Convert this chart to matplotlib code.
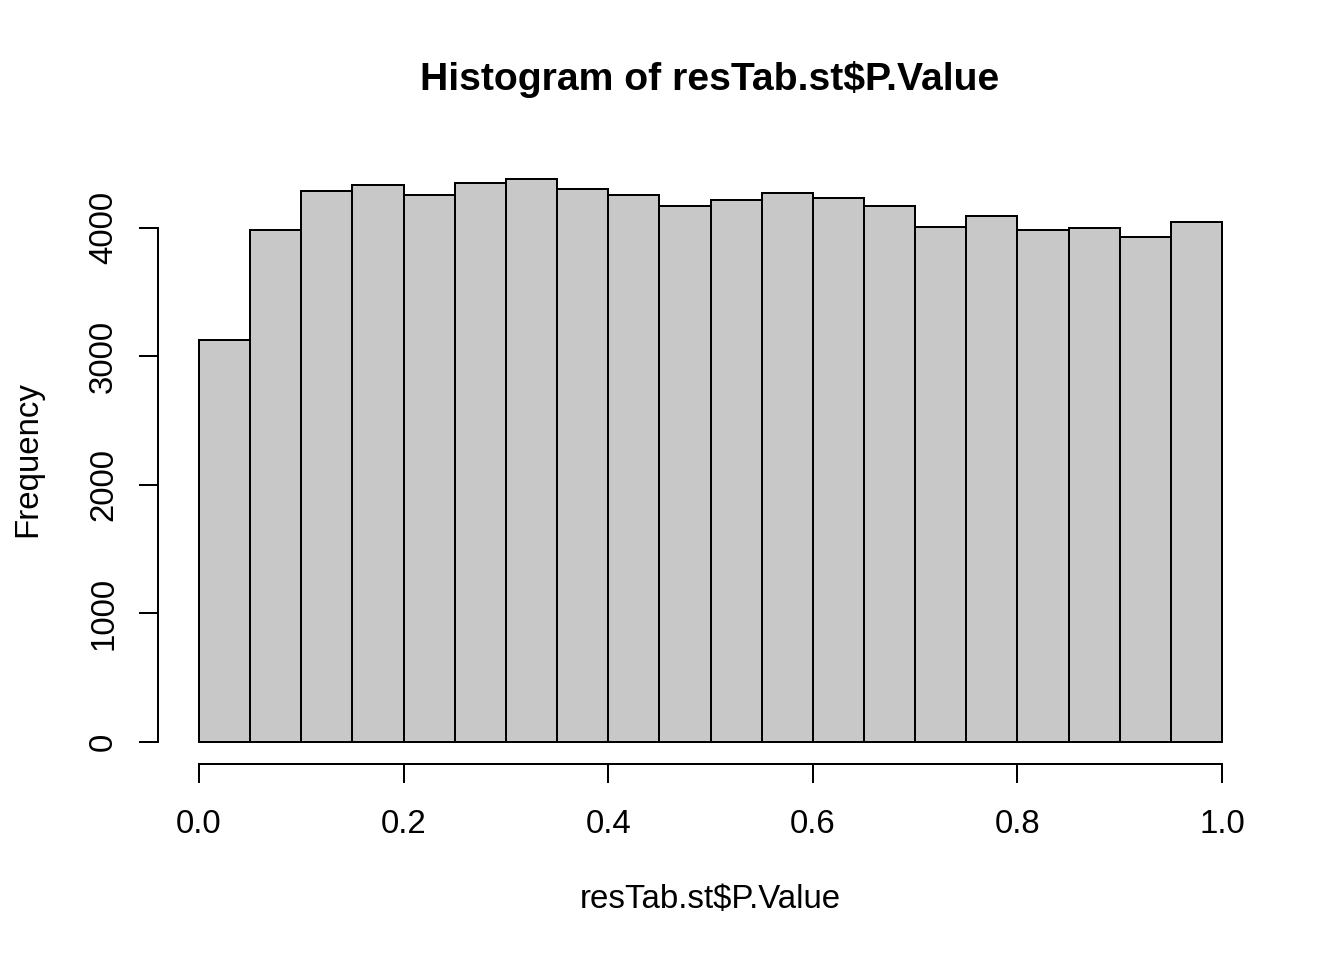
import matplotlib
matplotlib.use("Agg")
import matplotlib.pyplot as plt
import numpy as np

plt.rcParams['font.family'] = ['Liberation Sans', 'DejaVu Sans']

bin_edges = [0.00, 0.05, 0.10, 0.15, 0.20, 0.25, 0.30, 0.35, 0.40, 0.45, 0.50,
             0.55, 0.60, 0.65, 0.70, 0.75, 0.80, 0.85, 0.90, 0.95, 1.00]
counts = [3124, 3982, 4281, 4330, 4252, 4348, 4374, 4302, 4255, 4166,
          4211, 4268, 4226, 4164, 4002, 4091, 3984, 4000, 3930, 4041]
x_ticks = [0.0, 0.2, 0.4, 0.6, 0.8, 1.0]
x_tick_labels = ["0.0", "0.2", "0.4", "0.6", "0.8", "1.0"]
y_ticks = [0, 1000, 2000, 3000, 4000]
y_tick_labels = ["0", "1000", "2000", "3000", "4000"]
title = "Histogram of resTab.st$P.Value"
xlabel = "resTab.st$P.Value"
ylabel = "Frequency"

W, H = 1344, 960
fig = plt.figure(figsize=(7, 5), dpi=192)
ax = fig.add_axes([158 / W, 1 - 764 / H, (1263 - 158) / W, (764 - 157) / H])

edges = np.array(bin_edges)
ax.bar(edges[:-1], counts, width=np.diff(edges), align='edge',
       color='#C8C8C8', edgecolor='black', linewidth=0.75)

ymax = max(counts)
ax.set_xlim(-0.04, 1.04)
ax.set_ylim(-0.04 * ymax, 1.04 * ymax)

for s in ['top', 'right']:
    ax.spines[s].set_visible(False)
ax.spines['left'].set_bounds(0, 4000)
ax.spines['bottom'].set_bounds(0, 1)
for s in ['left', 'bottom']:
    ax.spines[s].set_linewidth(0.75)

ax.set_xticks(x_ticks)
ax.set_xticklabels(x_tick_labels)
ax.set_yticks(y_ticks)
ax.set_yticklabels(y_tick_labels, rotation=90, va='center')
ax.tick_params(direction='out', length=7.2, width=0.75, labelsize=12.4)
ax.tick_params(axis='x', pad=9.6)
ax.tick_params(axis='y', pad=7.4)

fig.text(710 / W, 1 - 90 / H, title, ha='center', va='baseline',
         fontsize=14.7, fontweight='bold')
fig.text(710 / W, 1 - 908 / H, xlabel, ha='center', va='baseline', fontsize=12.4)
fig.text(27.5 / W, 1 - 459 / H, ylabel, ha='center', va='center',
         rotation=90, fontsize=12.4)

fig.savefig("out.png", dpi=192)
